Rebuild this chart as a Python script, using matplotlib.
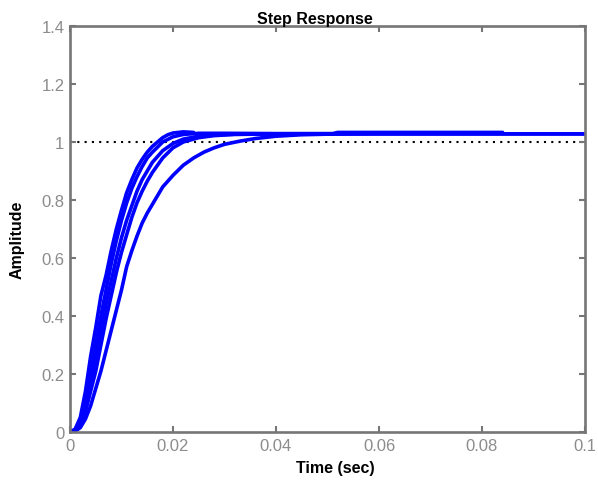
import matplotlib
matplotlib.use("Agg")
import matplotlib.pyplot as plt

# ---- data ----
tA = [0, 0.001, 0.002, 0.003, 0.004, 0.005, 0.006, 0.007, 0.008, 0.009, 0.010,
      0.011, 0.012, 0.013, 0.014, 0.015, 0.016, 0.017, 0.018, 0.019, 0.020, 0.022, 0.024]
yA = [0, 0.01, 0.05, 0.14, 0.26, 0.36, 0.47, 0.54, 0.625, 0.70, 0.765,
      0.825, 0.87, 0.91, 0.94, 0.965, 0.985, 1.0, 1.015, 1.025, 1.031, 1.035, 1.033]

tB = [0, 0.001, 0.002, 0.003, 0.004, 0.005, 0.006, 0.007, 0.008, 0.009, 0.010,
      0.011, 0.012, 0.013, 0.014, 0.015, 0.016, 0.018, 0.020, 0.022, 0.025, 0.028,
      0.032, 0.04, 0.05, 0.1]
yB = [0, 0.005, 0.03, 0.09, 0.17, 0.26, 0.35, 0.44, 0.52, 0.6, 0.67,
      0.73, 0.78, 0.83, 0.87, 0.9, 0.93, 0.97, 0.995, 1.01, 1.02, 1.025,
      1.027, 1.028, 1.028, 1.028]

tC = [0, 0.001, 0.002, 0.003, 0.004, 0.005, 0.006, 0.007, 0.008, 0.009, 0.010,
      0.011, 0.012, 0.013, 0.014, 0.015, 0.016, 0.018, 0.020, 0.022, 0.025, 0.028,
      0.032, 0.04, 0.051]
yC = [0, 0.004, 0.025, 0.07, 0.14, 0.21, 0.3, 0.39, 0.47, 0.55, 0.62,
      0.68, 0.74, 0.79, 0.83, 0.865, 0.895, 0.945, 0.98, 1.0, 1.015, 1.022,
      1.026, 1.028, 1.028]

tD = [0, 0.001, 0.002, 0.003, 0.004, 0.005, 0.006, 0.007, 0.008, 0.009, 0.010,
      0.011, 0.012, 0.013, 0.014, 0.015, 0.016, 0.018, 0.020, 0.022, 0.024, 0.026,
      0.028, 0.030, 0.033, 0.036, 0.04, 0.045, 0.05, 0.06, 0.1]
yD = [0, 0.003, 0.015, 0.045, 0.09, 0.15, 0.21, 0.28, 0.35, 0.42, 0.49,
      0.57, 0.625, 0.675, 0.72, 0.755, 0.785, 0.845, 0.885, 0.92, 0.945, 0.965,
      0.98, 0.992, 1.003, 1.012, 1.02, 1.025, 1.027, 1.028, 1.028]

tE = [0, 0.001, 0.002, 0.003, 0.004, 0.005, 0.006, 0.007, 0.008, 0.009, 0.010,
      0.011, 0.012, 0.013, 0.014, 0.015, 0.016, 0.018, 0.020, 0.022, 0.025, 0.03,
      0.04, 0.051, 0.052, 0.084]
yE = [0, 0.007, 0.04, 0.11, 0.2, 0.3, 0.4, 0.49, 0.58, 0.66, 0.73,
      0.79, 0.84, 0.88, 0.915, 0.945, 0.965, 1.0, 1.018, 1.026, 1.03, 1.03,
      1.029, 1.029, 1.033, 1.033]

ref_t = [0, 0.1]
ref_y = [1, 1]

xticks = [0, 0.02, 0.04, 0.06, 0.08, 0.1]
xticklabels = ["0", "0.02", "0.04", "0.06", "0.08", "0.1"]
yticks = [0, 0.2, 0.4, 0.6, 0.8, 1.0, 1.2, 1.4]
yticklabels = ["0", "0.2", "0.4", "0.6", "0.8", "1", "1.2", "1.4"]

plt.rcParams['font.family'] = ['Liberation Sans', 'DejaVu Sans']

fig = plt.figure(figsize=(5.98, 4.85), dpi=100)
ax = fig.add_axes([70/598, (485-433)/485, (585-70)/598, (433-27)/485])

ax.plot(ref_t, ref_y, color='black', linewidth=1.5, dashes=(1, 2.5), zorder=1)
for t, y in [(tD, yD), (tC, yC), (tB, yB), (tE, yE), (tA, yA)]:
    ax.plot(t, y, color='#0000ff', linewidth=2.6, zorder=2,
            solid_joinstyle='round', solid_capstyle='round')

ax.set_xlim(0, 0.1)
ax.set_ylim(0, 1.4)
ax.set_xticks(xticks)
ax.set_xticklabels(xticklabels)
ax.set_yticks(yticks)
ax.set_yticklabels(yticklabels)

spine_col = '#767676'
for s in ax.spines.values():
    s.set_color(spine_col)
    s.set_linewidth(1.9)
ax.tick_params(direction='in', length=4, width=1.5, color=spine_col,
               labelcolor='#8c8c8c', labelsize=12, top=True, right=True, pad=4)

ax.set_title("Step Response", fontsize=11.5, fontweight='bold', pad=2,
             x=(315 - 70) / 515)
ax.set_xlabel("Time (sec)", fontsize=11.5, fontweight='bold')
ax.xaxis.set_label_coords((335 - 70) / 515, -0.068)
ax.set_ylabel("Amplitude", fontsize=11.5, fontweight='bold')
ax.yaxis.set_label_coords((18 - 70) / 515 + 0.012, (433 - 240) / 406)

fig.savefig("out.png", dpi=100)
